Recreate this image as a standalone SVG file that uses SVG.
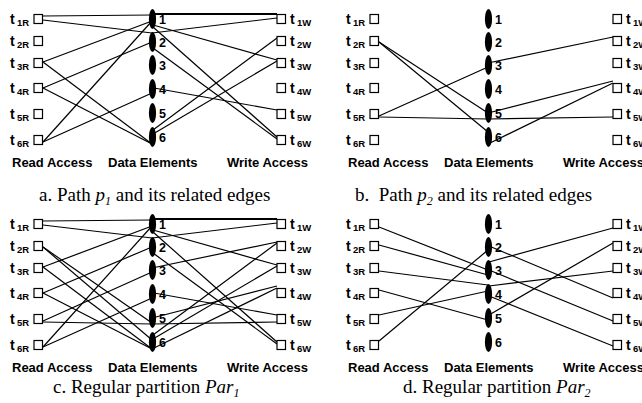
<svg xmlns="http://www.w3.org/2000/svg" width="642" height="403" viewBox="0 0 642 403">
<style>
.sq{fill:#fff;stroke:#000;stroke-width:1.2}
.el{fill:#000}
.lb{font-family:"Liberation Sans",Arial,sans-serif;font-weight:bold;font-size:14px;fill:#000}
.sb{font-size:9.5px}
.num{font-family:"Liberation Sans",Arial,sans-serif;font-weight:bold;font-size:12.5px;fill:#000}
.ax{font-family:"Liberation Sans",Arial,sans-serif;font-weight:bold;font-size:13px;fill:#000}
.cap{font-family:"Liberation Serif","Times New Roman",serif;font-size:19px;fill:#000}
.ci{font-style:italic}
.cs{font-size:12px;font-style:italic}
.e path{stroke:#000;stroke-width:1.2;fill:none}
.e path.tk{stroke-width:2.2}
</style>
<defs>
<g id="nodes-proto"/>
</defs>

<!-- Panel a -->
<g id="panel-a">
<g id="a-edges" class="e">
<path d="M43,16 L152,15"/>
<path d="M43,20 L152,33"/>
<path d="M43,62 L152,21"/>
<path d="M43,62 L152,144"/>
<path d="M43,88 L152,42"/>
<path d="M43,88 L152,144"/>
<path d="M43,142 L152,21"/>
<path d="M43,142 L152,93"/>
<path class="tk" d="M152,14 L277,14"/>
<path d="M152,33 L277,18"/>
<path d="M153,25 L277,60"/>
<path d="M153,27 L277,137"/>
<path d="M153,48 L277,139"/>
<path d="M154,88 L277,110"/>
<path d="M153,130 L277,38"/>
<path d="M153,134 L277,61"/>
</g>
<g id="a-t1R"><rect class="sq" x="34" y="14.5" width="8.5" height="9"/><text class="lb" x="10" y="24">t<tspan class="sb" x="17" y="26">1R</tspan></text></g>
<g id="a-t2R"><rect class="sq" x="34" y="36.5" width="8.5" height="9"/><text class="lb" x="10" y="46">t<tspan class="sb" x="17" y="48">2R</tspan></text></g>
<g id="a-t3R"><rect class="sq" x="34" y="58.5" width="8.5" height="9"/><text class="lb" x="10" y="68">t<tspan class="sb" x="17" y="70">3R</tspan></text></g>
<g id="a-t4R"><rect class="sq" x="34" y="83.5" width="8.5" height="9"/><text class="lb" x="10" y="93">t<tspan class="sb" x="17" y="95">4R</tspan></text></g>
<g id="a-t5R"><rect class="sq" x="34" y="109.5" width="8.5" height="9"/><text class="lb" x="10" y="119">t<tspan class="sb" x="17" y="121">5R</tspan></text></g>
<g id="a-t6R"><rect class="sq" x="34" y="135.5" width="8.5" height="9"/><text class="lb" x="10" y="145">t<tspan class="sb" x="17" y="147">6R</tspan></text></g>
<g id="a-d1"><ellipse class="el" cx="152.5" cy="19" rx="3.6" ry="10"/><text class="num" x="159" y="23.5">1</text></g>
<g id="a-d2"><ellipse class="el" cx="152.5" cy="42" rx="3.6" ry="10"/><text class="num" x="159" y="46.5">2</text></g>
<g id="a-d3"><ellipse class="el" cx="152.5" cy="65" rx="3.6" ry="10"/><text class="num" x="159" y="69.5">3</text></g>
<g id="a-d4"><ellipse class="el" cx="152.5" cy="89" rx="3.6" ry="10"/><text class="num" x="159" y="93.5">4</text></g>
<g id="a-d5"><ellipse class="el" cx="152.5" cy="113" rx="3.6" ry="10"/><text class="num" x="159" y="117.5">5</text></g>
<g id="a-d6"><ellipse class="el" cx="152.5" cy="137" rx="3.6" ry="10"/><text class="num" x="159" y="141.5">6</text></g>
<g id="a-t1W"><rect class="sq" x="277" y="14.5" width="8.5" height="9"/><text class="lb" x="290" y="24">t<tspan class="sb" x="297" y="26">1W</tspan></text></g>
<g id="a-t2W"><rect class="sq" x="277" y="36.5" width="8.5" height="9"/><text class="lb" x="290" y="46">t<tspan class="sb" x="297" y="48">2W</tspan></text></g>
<g id="a-t3W"><rect class="sq" x="277" y="58.5" width="8.5" height="9"/><text class="lb" x="290" y="68">t<tspan class="sb" x="297" y="70">3W</tspan></text></g>
<g id="a-t4W"><rect class="sq" x="277" y="83.5" width="8.5" height="9"/><text class="lb" x="290" y="93">t<tspan class="sb" x="297" y="95">4W</tspan></text></g>
<g id="a-t5W"><rect class="sq" x="277" y="109.5" width="8.5" height="9"/><text class="lb" x="290" y="119">t<tspan class="sb" x="297" y="121">5W</tspan></text></g>
<g id="a-t6W"><rect class="sq" x="277" y="135.5" width="8.5" height="9"/><text class="lb" x="290" y="145">t<tspan class="sb" x="297" y="147">6W</tspan></text></g>
<text class="ax" x="12" y="167">Read Access</text>
<text class="ax" x="108" y="167">Data Elements</text>
<text class="ax" x="227" y="167">Write Access</text>
</g>
<text class="cap" x="39" y="201">a. Path <tspan class="ci">p</tspan><tspan class="cs" dy="4">1</tspan><tspan dy="-4"> and its related edges</tspan></text>

<!-- Panel b -->
<g id="panel-b" transform="translate(336,0)">
<g id="b-edges" class="e">
<path d="M43,42 L152,113"/>
<path d="M43,42 L152,132"/>
<path d="M43,116 L152,67"/>
<path d="M43,117 L152,119"/>
<path d="M152,119 L277,117"/>
<path d="M152,63 L277,37"/>
<path d="M152,113 L277,81"/>
<path d="M154,143 L277,83"/>
</g>
<g id="b-t1R"><rect class="sq" x="34" y="14.5" width="8.5" height="9"/><text class="lb" x="10" y="24">t<tspan class="sb" x="17" y="26">1R</tspan></text></g>
<g id="b-t2R"><rect class="sq" x="34" y="36.5" width="8.5" height="9"/><text class="lb" x="10" y="46">t<tspan class="sb" x="17" y="48">2R</tspan></text></g>
<g id="b-t3R"><rect class="sq" x="34" y="58.5" width="8.5" height="9"/><text class="lb" x="10" y="68">t<tspan class="sb" x="17" y="70">3R</tspan></text></g>
<g id="b-t4R"><rect class="sq" x="34" y="83.5" width="8.5" height="9"/><text class="lb" x="10" y="93">t<tspan class="sb" x="17" y="95">4R</tspan></text></g>
<g id="b-t5R"><rect class="sq" x="34" y="109.5" width="8.5" height="9"/><text class="lb" x="10" y="119">t<tspan class="sb" x="17" y="121">5R</tspan></text></g>
<g id="b-t6R"><rect class="sq" x="34" y="135.5" width="8.5" height="9"/><text class="lb" x="10" y="145">t<tspan class="sb" x="17" y="147">6R</tspan></text></g>
<g id="b-d1"><ellipse class="el" cx="152.5" cy="19" rx="3.6" ry="10"/><text class="num" x="159" y="23.5">1</text></g>
<g id="b-d2"><ellipse class="el" cx="152.5" cy="42" rx="3.6" ry="10"/><text class="num" x="159" y="46.5">2</text></g>
<g id="b-d3"><ellipse class="el" cx="152.5" cy="65" rx="3.6" ry="10"/><text class="num" x="159" y="69.5">3</text></g>
<g id="b-d4"><ellipse class="el" cx="152.5" cy="89" rx="3.6" ry="10"/><text class="num" x="159" y="93.5">4</text></g>
<g id="b-d5"><ellipse class="el" cx="152.5" cy="113" rx="3.6" ry="10"/><text class="num" x="159" y="117.5">5</text></g>
<g id="b-d6"><ellipse class="el" cx="152.5" cy="137" rx="3.6" ry="10"/><text class="num" x="159" y="141.5">6</text></g>
<g id="b-t1W"><rect class="sq" x="277" y="14.5" width="8.5" height="9"/><text class="lb" x="290" y="24">t<tspan class="sb" x="297" y="26">1W</tspan></text></g>
<g id="b-t2W"><rect class="sq" x="277" y="36.5" width="8.5" height="9"/><text class="lb" x="290" y="46">t<tspan class="sb" x="297" y="48">2W</tspan></text></g>
<g id="b-t3W"><rect class="sq" x="277" y="58.5" width="8.5" height="9"/><text class="lb" x="290" y="68">t<tspan class="sb" x="297" y="70">3W</tspan></text></g>
<g id="b-t4W"><rect class="sq" x="277" y="83.5" width="8.5" height="9"/><text class="lb" x="290" y="93">t<tspan class="sb" x="297" y="95">4W</tspan></text></g>
<g id="b-t5W"><rect class="sq" x="277" y="109.5" width="8.5" height="9"/><text class="lb" x="290" y="119">t<tspan class="sb" x="297" y="121">5W</tspan></text></g>
<g id="b-t6W"><rect class="sq" x="277" y="135.5" width="8.5" height="9"/><text class="lb" x="290" y="145">t<tspan class="sb" x="297" y="147">6W</tspan></text></g>
<text class="ax" x="12" y="167">Read Access</text>
<text class="ax" x="108" y="167">Data Elements</text>
<text class="ax" x="227" y="167">Write Access</text>
</g>
<text class="cap" x="355" y="201" xml:space="preserve">b.  Path <tspan class="ci">p</tspan><tspan class="cs" dy="4">2</tspan><tspan dy="-4"> and its related edges</tspan></text>

<!-- Panel c -->
<g id="panel-c" transform="translate(0,205)">
<g id="c-edges" class="e">
<path d="M43,16 L152,15"/>
<path d="M43,20 L152,33"/>
<path d="M43,62 L152,21"/>
<path d="M43,62 L152,144"/>
<path d="M43,88 L152,42"/>
<path d="M43,88 L152,144"/>
<path d="M43,142 L152,21"/>
<path d="M43,142 L152,93"/>
<path d="M43,42 L152,118"/>
<path d="M43,42 L152,135"/>
<path d="M43,116 L152,67"/>
<path d="M43,117 L152,119"/>
<path class="tk" d="M152,14 L277,14"/>
<path d="M152,33 L277,18"/>
<path d="M153,25 L277,60"/>
<path d="M153,27 L277,137"/>
<path d="M153,48 L277,139"/>
<path d="M154,88 L277,110"/>
<path d="M153,130 L277,38"/>
<path d="M153,134 L277,61"/>
<path d="M152,119 L277,117"/>
<path d="M152,63 L277,37"/>
<path d="M152,113 L277,81"/>
<path d="M154,143 L277,83"/>
</g>
<g id="c-t1R"><rect class="sq" x="34" y="14.5" width="8.5" height="9"/><text class="lb" x="10" y="24">t<tspan class="sb" x="17" y="26">1R</tspan></text></g>
<g id="c-t2R"><rect class="sq" x="34" y="36.5" width="8.5" height="9"/><text class="lb" x="10" y="46">t<tspan class="sb" x="17" y="48">2R</tspan></text></g>
<g id="c-t3R"><rect class="sq" x="34" y="58.5" width="8.5" height="9"/><text class="lb" x="10" y="68">t<tspan class="sb" x="17" y="70">3R</tspan></text></g>
<g id="c-t4R"><rect class="sq" x="34" y="83.5" width="8.5" height="9"/><text class="lb" x="10" y="93">t<tspan class="sb" x="17" y="95">4R</tspan></text></g>
<g id="c-t5R"><rect class="sq" x="34" y="109.5" width="8.5" height="9"/><text class="lb" x="10" y="119">t<tspan class="sb" x="17" y="121">5R</tspan></text></g>
<g id="c-t6R"><rect class="sq" x="34" y="135.5" width="8.5" height="9"/><text class="lb" x="10" y="145">t<tspan class="sb" x="17" y="147">6R</tspan></text></g>
<g id="c-d1"><ellipse class="el" cx="152.5" cy="19" rx="3.6" ry="10"/><text class="num" x="159" y="23.5">1</text></g>
<g id="c-d2"><ellipse class="el" cx="152.5" cy="42" rx="3.6" ry="10"/><text class="num" x="159" y="46.5">2</text></g>
<g id="c-d3"><ellipse class="el" cx="152.5" cy="65" rx="3.6" ry="10"/><text class="num" x="159" y="69.5">3</text></g>
<g id="c-d4"><ellipse class="el" cx="152.5" cy="89" rx="3.6" ry="10"/><text class="num" x="159" y="93.5">4</text></g>
<g id="c-d5"><ellipse class="el" cx="152.5" cy="113" rx="3.6" ry="10"/><text class="num" x="159" y="117.5">5</text></g>
<g id="c-d6"><ellipse class="el" cx="152.5" cy="137" rx="3.6" ry="10"/><text class="num" x="159" y="141.5">6</text></g>
<g id="c-t1W"><rect class="sq" x="277" y="14.5" width="8.5" height="9"/><text class="lb" x="290" y="24">t<tspan class="sb" x="297" y="26">1W</tspan></text></g>
<g id="c-t2W"><rect class="sq" x="277" y="36.5" width="8.5" height="9"/><text class="lb" x="290" y="46">t<tspan class="sb" x="297" y="48">2W</tspan></text></g>
<g id="c-t3W"><rect class="sq" x="277" y="58.5" width="8.5" height="9"/><text class="lb" x="290" y="68">t<tspan class="sb" x="297" y="70">3W</tspan></text></g>
<g id="c-t4W"><rect class="sq" x="277" y="83.5" width="8.5" height="9"/><text class="lb" x="290" y="93">t<tspan class="sb" x="297" y="95">4W</tspan></text></g>
<g id="c-t5W"><rect class="sq" x="277" y="109.5" width="8.5" height="9"/><text class="lb" x="290" y="119">t<tspan class="sb" x="297" y="121">5W</tspan></text></g>
<g id="c-t6W"><rect class="sq" x="277" y="135.5" width="8.5" height="9"/><text class="lb" x="290" y="145">t<tspan class="sb" x="297" y="147">6W</tspan></text></g>
<text class="ax" x="12" y="167">Read Access</text>
<text class="ax" x="108" y="167">Data Elements</text>
<text class="ax" x="227" y="167">Write Access</text>
</g>
<text class="cap" x="53" y="393">c. Regular partition <tspan class="ci">Par</tspan><tspan class="cs" dy="4">1</tspan></text>

<!-- Panel d -->
<g id="panel-d" transform="translate(336,205)">
<g id="d-edges" class="e">
<path d="M43,22 L152,65"/>
<path d="M43,40 L152,70"/>
<path d="M43,66 L152,80"/>
<path d="M43,85 L152,115"/>
<path d="M43,110 L152,86"/>
<path d="M43,136 L152,45"/>
<path d="M153,41 L277,93"/>
<path d="M153,57 L277,23"/>
<path d="M153,65 L277,116"/>
<path d="M153,81 L277,66"/>
<path d="M153,91 L277,141"/>
<path d="M153,110 L277,38"/>
</g>
<g id="d-t1R"><rect class="sq" x="34" y="14.5" width="8.5" height="9"/><text class="lb" x="10" y="24">t<tspan class="sb" x="17" y="26">1R</tspan></text></g>
<g id="d-t2R"><rect class="sq" x="34" y="36.5" width="8.5" height="9"/><text class="lb" x="10" y="46">t<tspan class="sb" x="17" y="48">2R</tspan></text></g>
<g id="d-t3R"><rect class="sq" x="34" y="58.5" width="8.5" height="9"/><text class="lb" x="10" y="68">t<tspan class="sb" x="17" y="70">3R</tspan></text></g>
<g id="d-t4R"><rect class="sq" x="34" y="83.5" width="8.5" height="9"/><text class="lb" x="10" y="93">t<tspan class="sb" x="17" y="95">4R</tspan></text></g>
<g id="d-t5R"><rect class="sq" x="34" y="109.5" width="8.5" height="9"/><text class="lb" x="10" y="119">t<tspan class="sb" x="17" y="121">5R</tspan></text></g>
<g id="d-t6R"><rect class="sq" x="34" y="135.5" width="8.5" height="9"/><text class="lb" x="10" y="145">t<tspan class="sb" x="17" y="147">6R</tspan></text></g>
<g id="d-d1"><ellipse class="el" cx="152.5" cy="19" rx="3.6" ry="10"/><text class="num" x="159" y="23.5">1</text></g>
<g id="d-d2"><ellipse class="el" cx="152.5" cy="42" rx="3.6" ry="10"/><text class="num" x="159" y="46.5">2</text></g>
<g id="d-d3"><ellipse class="el" cx="152.5" cy="65" rx="3.6" ry="10"/><text class="num" x="159" y="69.5">3</text></g>
<g id="d-d4"><ellipse class="el" cx="152.5" cy="89" rx="3.6" ry="10"/><text class="num" x="159" y="93.5">4</text></g>
<g id="d-d5"><ellipse class="el" cx="152.5" cy="113" rx="3.6" ry="10"/><text class="num" x="159" y="117.5">5</text></g>
<g id="d-d6"><ellipse class="el" cx="152.5" cy="137" rx="3.6" ry="10"/><text class="num" x="159" y="141.5">6</text></g>
<g id="d-t1W"><rect class="sq" x="277" y="14.5" width="8.5" height="9"/><text class="lb" x="290" y="24">t<tspan class="sb" x="297" y="26">1W</tspan></text></g>
<g id="d-t2W"><rect class="sq" x="277" y="36.5" width="8.5" height="9"/><text class="lb" x="290" y="46">t<tspan class="sb" x="297" y="48">2W</tspan></text></g>
<g id="d-t3W"><rect class="sq" x="277" y="58.5" width="8.5" height="9"/><text class="lb" x="290" y="68">t<tspan class="sb" x="297" y="70">3W</tspan></text></g>
<g id="d-t4W"><rect class="sq" x="277" y="83.5" width="8.5" height="9"/><text class="lb" x="290" y="93">t<tspan class="sb" x="297" y="95">4W</tspan></text></g>
<g id="d-t5W"><rect class="sq" x="277" y="109.5" width="8.5" height="9"/><text class="lb" x="290" y="119">t<tspan class="sb" x="297" y="121">5W</tspan></text></g>
<g id="d-t6W"><rect class="sq" x="277" y="135.5" width="8.5" height="9"/><text class="lb" x="290" y="145">t<tspan class="sb" x="297" y="147">6W</tspan></text></g>
<text class="ax" x="12" y="167">Read Access</text>
<text class="ax" x="108" y="167">Data Elements</text>
<text class="ax" x="227" y="167">Write Access</text>
</g>
<text class="cap" x="403" y="393">d. Regular partition <tspan class="ci">Par</tspan><tspan class="cs" dy="4">2</tspan></text>
</svg>
